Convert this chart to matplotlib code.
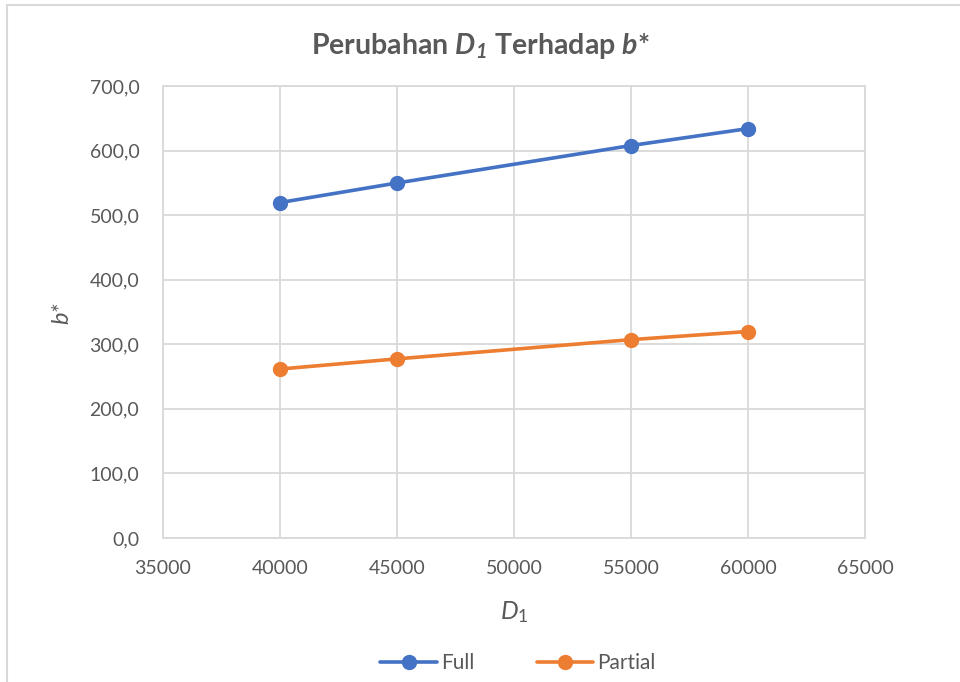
import matplotlib
matplotlib.use("Agg")
import matplotlib.pyplot as plt
from matplotlib.patches import Rectangle

plt.rcParams['font.family'] = ['Lato', 'DejaVu Sans']
plt.rcParams['mathtext.fontset'] = 'custom'
plt.rcParams['mathtext.rm'] = 'Lato'
plt.rcParams['mathtext.it'] = 'Lato:italic'
plt.rcParams['mathtext.bf'] = 'Lato:bold'
plt.rcParams['mathtext.bfit'] = 'Lato:bold:italic'

d1 = [40000, 45000, 55000, 60000]
full = [519.5, 549.8, 607.8, 634.0]
partial = [261.7, 277.4, 307.2, 319.8]
series_names = ["Full", "Partial"]
colors = ["#4472C4", "#ED7D31"]
x_ticks = [35000, 40000, 45000, 50000, 55000, 60000, 65000]
y_ticks = [0, 100, 200, 300, 400, 500, 600, 700]

fig = plt.figure(figsize=(9.6, 6.82), dpi=100)
ax = fig.add_axes([163/960, 1-538/682, (865-163)/960, (538-86)/682])

for vals, name, c in zip([full, partial], series_names, colors):
    ax.plot(d1, vals, color=c, lw=2.6, marker='o', ms=10, label=name,
            solid_capstyle='round', zorder=3)

ax.set_xlim(35000, 65000)
ax.set_ylim(0, 700)
ax.set_xticks(x_ticks)
ax.set_xticklabels([str(v) for v in x_ticks])
ax.set_yticks(y_ticks)
ax.set_yticklabels([f"{v:.1f}".replace('.', ',') for v in y_ticks])
ax.grid(True, color='#d9d9d9', lw=1.3, zorder=0)
ax.set_axisbelow(True)
for s in ax.spines.values():
    s.set_color('#d9d9d9')
    s.set_linewidth(1.3)
ax.tick_params(length=0, labelsize=14, colors='#595959')
ax.tick_params(axis='x', pad=16)
ax.tick_params(axis='y', pad=17)

txtc = '#595959'
fig.text(0.5, 1-46/682, r'Perubahan $\mathbfit{D_1}$ Terhadap $\mathbfit{b}$*',
         ha='center', va='center', fontsize=20.5, fontweight='bold', color=txtc)
fig.text(62/960, 1-313/682, 'b*', rotation=90, ha='center', va='center',
         fontsize=17, style='italic', color=txtc)
fig.text(514/960, 1-612/682, r'$D_1$', ha='center', va='center',
         fontsize=18, color=txtc)

leg = fig.legend(loc='center', bbox_to_anchor=(518/960, 1-663/682), ncol=2,
                 frameon=False, fontsize=15, handlelength=2.7,
                 columnspacing=3.0, handletextpad=0.2)
for t in leg.get_texts():
    t.set_color(txtc)

fig.patches.append(Rectangle((7/960, -0.05), 1.2, 1-5/682 + 0.05,
                             transform=fig.transFigure, fill=False,
                             edgecolor='#d9d9d9', lw=1.5))

fig.savefig('out.png', dpi=100)
